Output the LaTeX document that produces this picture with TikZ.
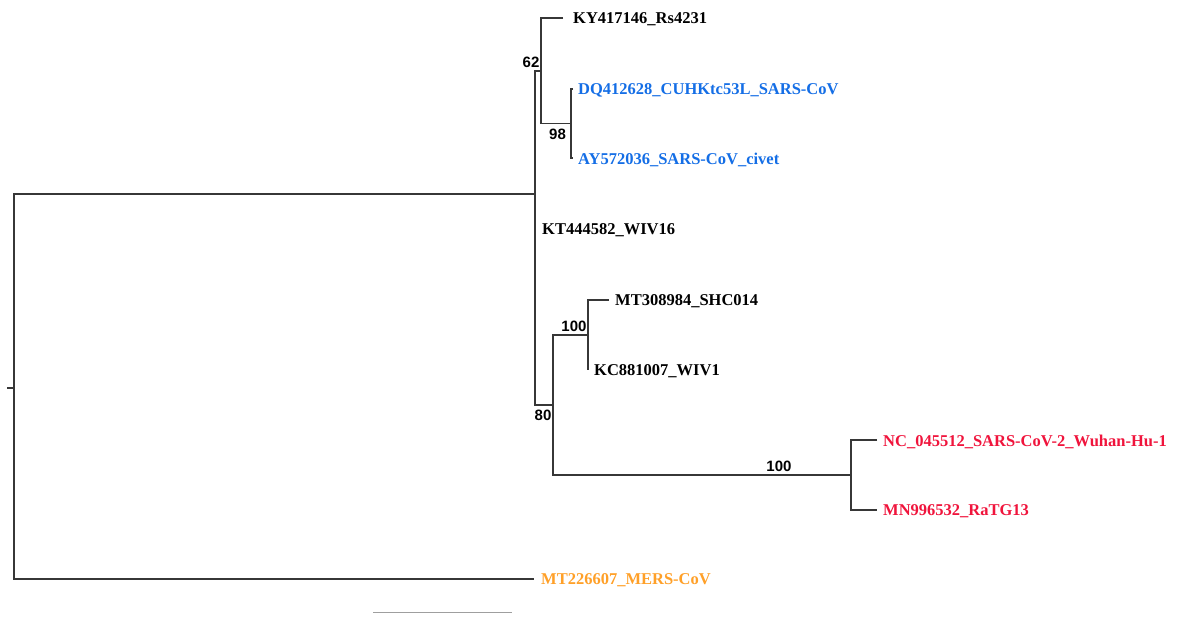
\documentclass[tikz,border=0pt]{standalone}
\usepackage{fontspec}
\setmainfont{Liberation Serif}
\newfontfamily\bsfont{Liberation Sans}
\definecolor{sarsblue}{RGB}{20,110,230}
\definecolor{covred}{RGB}{240,20,60}
\definecolor{mersorange}{RGB}{255,160,40}
\definecolor{branchcol}{RGB}{55,55,55}
\begin{document}
\begin{tikzpicture}[x=1pt,y=-1pt,
  br/.style={draw=branchcol,line width=1.4pt},
  leaf/.style={anchor=west,inner sep=0pt,yshift=-1.5pt,font=\fontsize{16.5}{18}\selectfont\bfseries},
  boot/.style={inner sep=0pt,font=\bsfont\fontsize{15}{17}\selectfont\bfseries}]
\useasboundingbox (0,0) rectangle (1178,619);
\fill[white] (0,0) rectangle (1178,619);
% internal nodes
\coordinate (tick) at (7,388);
\coordinate (root) at (14,388);
\coordinate (nA) at (535,194);
\coordinate (n62) at (541,71);
\coordinate (n98) at (571,123.5);
\coordinate (n80) at (553,405);
\coordinate (n100a) at (588,335);
\coordinate (n100b) at (851,475);
% tips
\coordinate (KYt) at (563,18);
\coordinate (DQt) at (573,89);
\coordinate (AYt) at (573,158);
\coordinate (MTt) at (609,300);
\coordinate (KCt) at (588,370);
\coordinate (NCt) at (877,440);
\coordinate (MNt) at (877,510);
\coordinate (MERSt) at (534,579);
% branches
\draw[br] (tick) -- (root);
\draw[br] (nA) -| (root) |- (MERSt);
\draw[br] (n62) -| (nA) |- (n80);
\draw[br] (KYt) -| (n62) |- (n98);
\draw[br] (DQt) -| (n98) |- (AYt);
\draw[br] (n100a) -| (n80) |- (n100b);
\draw[br] (MTt) -| (n100a) |- (KCt);
\draw[br] (NCt) -| (n100b) |- (MNt);
% leaf labels
\node[leaf] (KY) at (573,18) {KY417146\_Rs4231};
\node[leaf,text=sarsblue] (DQ) at (578,89) {DQ412628\_CUHKtc53L\_SARS-CoV};
\node[leaf,text=sarsblue] (AY) at (578,158) {AY572036\_SARS-CoV\_civet};
\node[leaf] (KT) at (542,229) {KT444582\_WIV16};
\node[leaf] (MT) at (615,300) {MT308984\_SHC014};
\node[leaf] (KC) at (594,370) {KC881007\_WIV1};
\node[leaf,text=covred] (NC) at (883,440) {NC\_045512\_SARS-CoV-2\_Wuhan-Hu-1};
\node[leaf,text=covred] (MN) at (883,510) {MN996532\_RaTG13};
\node[leaf,text=mersorange] (MERS) at (541,579) {MT226607\_MERS-CoV};
% bootstrap values
\node[boot] (b62) at (531,62) {62};
\node[boot] (b98) at (557.5,134) {98};
\node[boot] (b100a) at (574,326) {100};
\node[boot] (b80) at (543,415) {80};
\node[boot] (b100b) at (779,466) {100};
% scale bar
\coordinate (sb1) at (373,612);
\coordinate (sb2) at (512,612);
\draw[draw=gray!75,line width=1pt] (sb1) -- (sb2);
\end{tikzpicture}
\end{document}
